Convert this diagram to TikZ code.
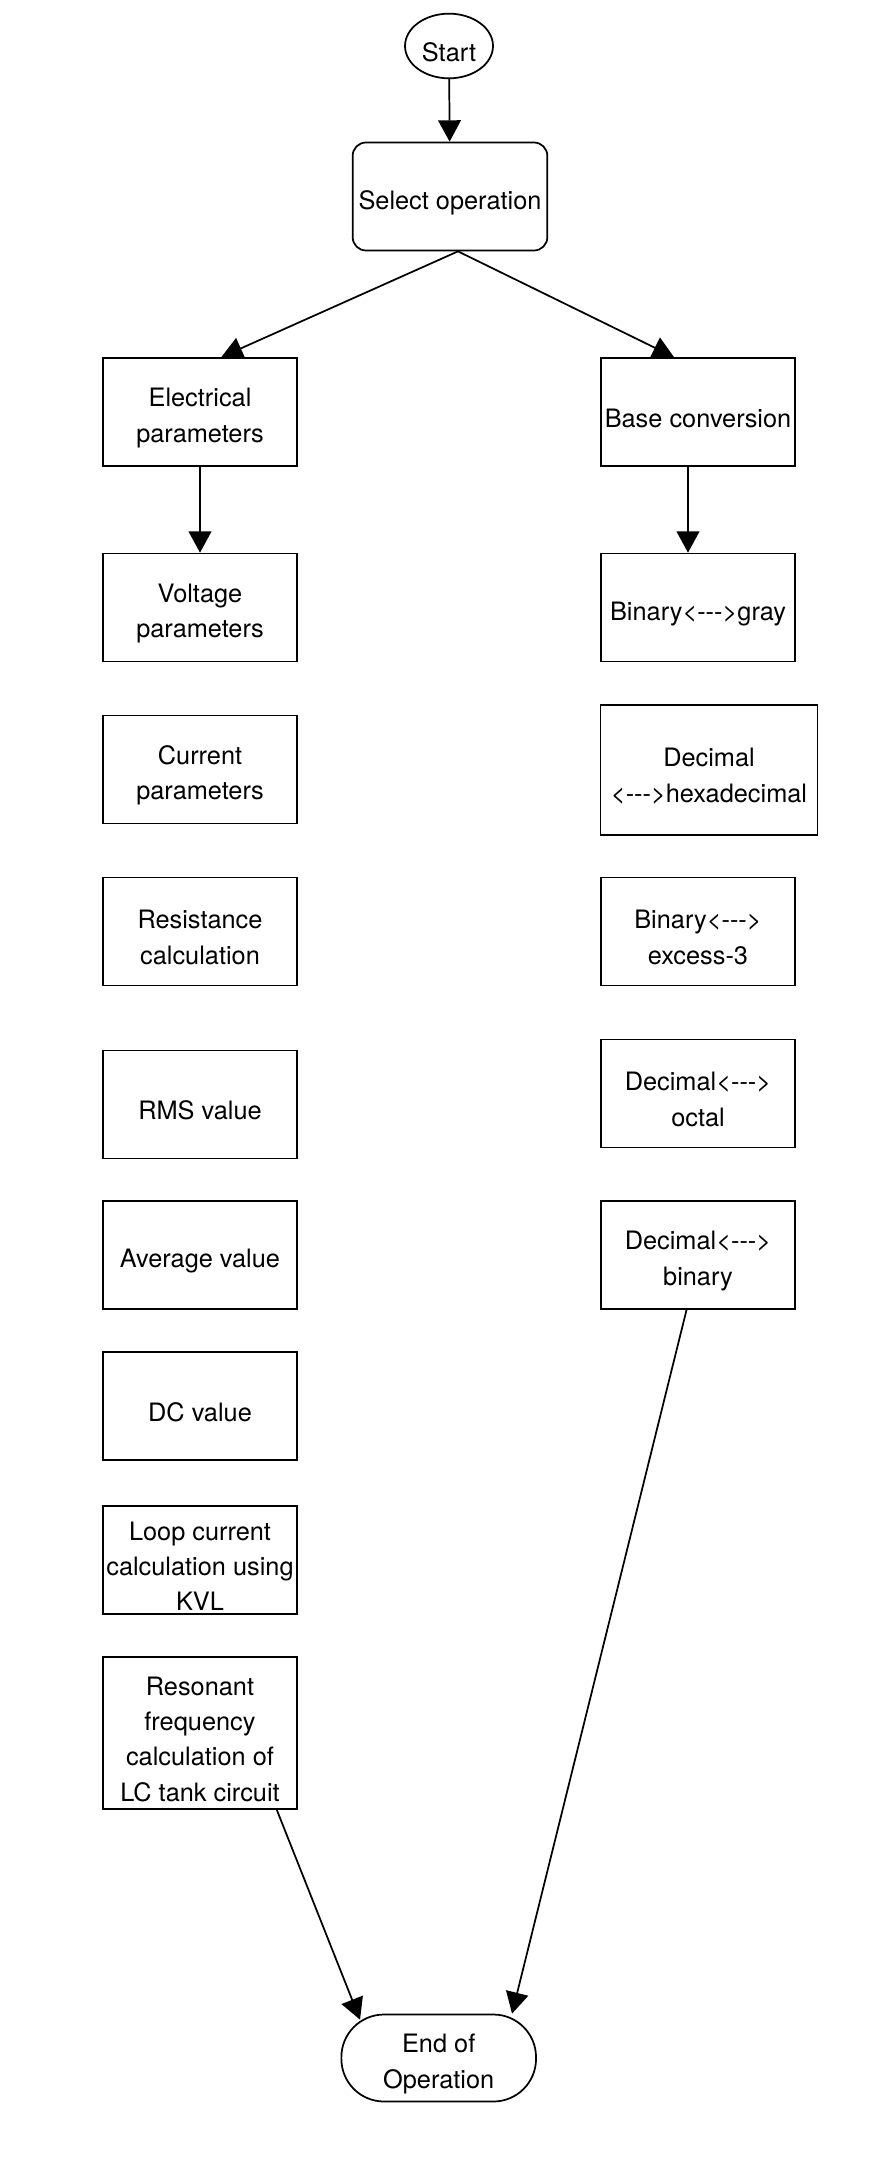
\documentclass[tikz,border=0pt]{standalone}
\usepackage{fontspec}
\newfontfamily\flowfont{TeX Gyre Heros}
\usetikzlibrary{arrows.meta,shapes.geometric}

\newcommand{\lra}{<{-}{-}{-}>}

\tikzset{
  lift/.style={execute at begin node={\rule{0pt}{#1}}},
  lines/.style={lift=\dimexpr 26.5pt*#1-3.5pt\relax},
  box/.style={draw, line width=1.3pt, inner sep=0pt, align=center,
    minimum width=146pt, minimum height=81pt,
    font=\flowfont\fontsize{19}{26.5}\selectfont, lines=1},
  flow/.style={draw, line width=1.3pt, -{Triangle[length=16pt,width=17pt]}}
}

\begin{document}
\begin{tikzpicture}[x=0.75pt,y=-0.75pt]

      \useasboundingbox (0,0) rectangle (886,2172);

      \begin{scope}[every node/.style={box}]
        \node[ellipse, minimum width=66pt, minimum height=48.5pt, lift=15pt] (start) at (449,46) {Start};
        \node[rounded corners=10pt] (select) at (450,196.5) {Select operation};

        % left column
        \node[lines=2] (elec)  at (200,412)    {Electrical\\parameters};
        \node[lines=2] (volt)  at (200,607.6)  {Voltage\\parameters};
        \node[lines=2] (curr)  at (200,769.5)  {Current\\parameters};
        \node[lines=2] (resis) at (200,931.5)  {Resistance\\calculation};
        \node (rms)   at (200,1104.5) {RMS value};
        \node (avg)   at (200,1255)   {Average value};
        \node (dc)    at (200,1406)   {DC value};
        \node[lines=3] (loop)  at (200,1560)   {Loop current\\calculation using\\KVL};
        \node[minimum height=114pt, lines=4] (reson) at (200,1733)
          {Resonant\\frequency\\calculation of\\LC tank circuit};

        % right column
        \node (base)  at (698,412)    {Base conversion};
        \node (gray)  at (698,607.6)  {Binary\lra gray};
        \node[minimum width=162.75pt, minimum height=97.5pt, lines=2] (hex) at (709,770)
          {Decimal\\\lra hexadecimal};
        \node[lines=2] (xs3)   at (698,931.5)  {Binary\lra\\excess-3};
        \node[lines=2] (oct)   at (698,1093.5) {Decimal\lra\\octal};
        \node[lines=2] (dbin)  at (698,1255)   {Decimal\lra\\binary};

        \node[rounded corners=32pt, minimum height=65.25pt, lines=2] (endop) at (438.7,2058)
          {End of\\Operation};
      \end{scope}

      \begin{scope}[every edge/.style={flow}]
        \path (start) edge (select);
        \path ([xshift=6pt]select.south) edge ([xshift=16pt]elec.north);
        \path ([xshift=6pt]select.south) edge ([xshift=-18pt]base.north);
        \path (elec) edge (volt);
        \path ([xshift=-7.5pt]base.south) edge ([xshift=-7.5pt]gray.north);
        \path ([xshift=57.6pt]reson.south) edge ([xshift=-59pt,yshift=-4.5pt]endop.north);
        \path ([xshift=-8.6pt]dbin.south) edge ([xshift=55pt]endop.north);
      \end{scope}

    \end{tikzpicture}
\end{document}
